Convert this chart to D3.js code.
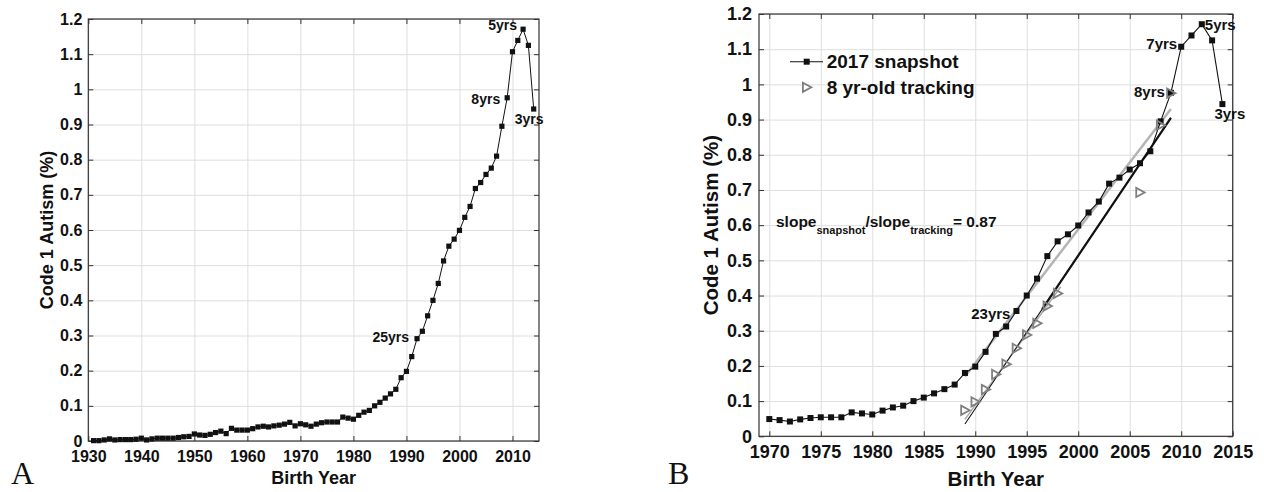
<!DOCTYPE html>
<html><head><meta charset="utf-8">
<script src="https://cdn.jsdelivr.net/npm/d3@7/dist/d3.min.js"></script>
<style>
body{margin:0;background:#fff;}
svg text{font-family:"Liberation Sans",Arial,Helvetica,sans-serif;font-weight:bold;fill:#111;}
</style></head><body>
<svg id="chart" width="1264" height="492"></svg>
<script>
// ---------- DATA ----------
const years = d3.range(1931, 2015); // 1931..2014
const snapshotValues = [
  0.001,0.001,0.003,0.006,0.003,0.004,0.004,0.004,0.005,0.008, // 1931-1940
  0.003,0.006,0.008,0.008,0.008,0.008,0.010,0.012,0.013,0.020, // 1941-1950
  0.017,0.016,0.019,0.024,0.028,0.021,0.036,0.031,0.031,0.031, // 1951-1960
  0.035,0.040,0.042,0.040,0.043,0.045,0.048,0.053,0.043,0.049, // 1961-1970
  0.046,0.042,0.048,0.052,0.054,0.054,0.054,0.068,0.065,0.062, // 1971-1980
  0.073,0.082,0.087,0.100,0.110,0.122,0.134,0.147,0.180,0.198, // 1981-1990
  0.240,0.291,0.312,0.356,0.400,0.448,0.512,0.554,0.574,0.599, // 1991-2000
  0.636,0.667,0.718,0.735,0.758,0.776,0.810,0.895,0.976,1.107, // 2001-2010
  1.139,1.171,1.125,0.944                                      // 2011-2014
];
const trackingYears  = [1989,1990,1991,1992,1993,1994,1995,1996,1997,1998,2006,2008,2009];
const trackingValues = [0.074,0.098,0.133,0.176,0.205,0.250,0.288,0.321,0.370,0.406,0.693,0.884,0.975];

const fitSnapshotYears  = [1989, 2009];
const fitSnapshotValues = [0.170, 0.930];
const fitTrackingYears  = [1989, 2009];
const fitTrackingValues = [0.035, 0.905];
const fitTrackingEarlyYears  = [1989, 1998.3];
const fitTrackingEarlyValues = [0.048, 0.425];

const yTicks = [0,0.1,0.2,0.3,0.4,0.5,0.6,0.7,0.8,0.9,1.0,1.1,1.2];
const yTickLabels = ["0","0.1","0.2","0.3","0.4","0.5","0.6","0.7","0.8","0.9","1","1.1","1.2"];
const xTicksA = [1930,1940,1950,1960,1970,1980,1990,2000,2010];
const xTicksB = [1970,1975,1980,1985,1990,1995,2000,2005,2010,2015];

const annotYearsA = [2012, 2009, 2014, 1992];
const annotTextA  = ["5yrs", "8yrs", "3yrs", "25yrs"];
const annotYearsB = [2012, 2010, 2009, 2014, 1994];
const annotTextB  = ["5yrs", "7yrs", "8yrs", "3yrs", "23yrs"];

const legendLabels = ["2017 snapshot", "8 yr-old tracking"];

// ---------- DRAW ----------
const svg = d3.select("#chart");
const snapshot = years.map((y,i)=>({year:y, v:snapshotValues[i]}));
const tracking = trackingYears.map((y,i)=>({year:y, v:trackingValues[i]}));
const zipPts = (ys, vs) => ys.map((y,i)=>({year:y, v:vs[i]}));

function panel(cfg){
  const g = svg.append("g").attr("transform", `translate(${cfg.left},${cfg.top})`);
  const w = cfg.right - cfg.left, h = cfg.bottom - cfg.top;
  const x = d3.scaleLinear().domain(cfg.xDomain).range([0, w]);
  const y = d3.scaleLinear().domain([0, 1.2]).range([h, 0]);

  // grid
  g.append("g").attr("transform",`translate(0,${h})`)
    .call(d3.axisBottom(x).tickValues(cfg.xTicks).tickSize(-h).tickFormat(""))
    .call(s=>{s.select(".domain").remove(); s.selectAll("line").attr("stroke","#dedede");});
  g.append("g")
    .call(d3.axisLeft(y).tickValues(yTicks).tickSize(-w).tickFormat(""))
    .call(s=>{s.select(".domain").remove(); s.selectAll("line").attr("stroke","#dedede");});

  // axes with inward ticks
  const styleAxis = s => { s.select(".domain").remove(); s.selectAll("line").attr("stroke","#333"); s.selectAll("text").style("font-size", cfg.tickFont+"px").attr("fill","#111"); };
  g.append("g").attr("transform",`translate(0,${h})`)
    .call(d3.axisBottom(x).tickValues(cfg.xTicks).tickSize(-5).tickPadding(cfg.xPad).tickFormat(d3.format("d")))
    .call(styleAxis);
  g.append("g")
    .call(d3.axisLeft(y).tickValues(yTicks).tickSize(-5).tickPadding(cfg.yPad).tickFormat((d,i)=>yTickLabels[i]))
    .call(styleAxis);
  g.append("g")
    .call(d3.axisTop(x).tickValues(cfg.xTicks).tickSize(-5).tickFormat(""))
    .call(styleAxis);
  g.append("g").attr("transform",`translate(${w},0)`)
    .call(d3.axisRight(y).tickValues(yTicks).tickSize(-5).tickFormat(""))
    .call(styleAxis);
  g.append("rect").attr("width",w).attr("height",h).attr("fill","none").attr("stroke","#333").attr("stroke-width",1.2);

  // titles
  g.append("text").attr("x", w/2).attr("y", cfg.xTitleY - cfg.top).attr("text-anchor","middle")
    .attr("dominant-baseline","central").style("font-size", cfg.titleFont+"px").text("Birth Year");
  g.append("text").attr("transform",`translate(${cfg.yTitleX - cfg.left},${h/2}) rotate(-90)`)
    .attr("text-anchor","middle").attr("dominant-baseline","central")
    .style("font-size", cfg.titleFont+"px").text("Code 1 Autism (%)");

  return {g, x, y, w, h};
}

// ---- Panel A ----
const A = panel({left:88.3, right:539, top:19, bottom:441, xDomain:[1930,2015], xTicks:xTicksA,
  tickFont:16, xPad:10, yPad:6, titleFont:18, xTitleY:478, yTitleX:47});
{
  const {g,x,y} = A;
  const data = snapshot;
  g.append("path").datum(data).attr("fill","none").attr("stroke","#111").attr("stroke-width",1)
    .attr("d", d3.line().x(d=>x(d.year)).y(d=>y(d.v)));
  g.selectAll("rect.m").data(data).join("rect").attr("class","m")
    .attr("x",d=>x(d.year)-2.6).attr("y",d=>y(d.v)-2.6).attr("width",5.2).attr("height",5.2).attr("fill","#111");
  const offs = [[-6,-4,"end"],[-7,1,"end"],[-19,10,"start"],[-8,-2,"end"]];
  annotYearsA.forEach((yr,i)=>{
    const d = snapshot.find(p=>p.year===yr);
    const o = offs[i];
    g.append("text").attr("x", x(d.year)+o[0]).attr("y", y(d.v)+o[1])
      .attr("text-anchor", o[2]).attr("dominant-baseline","central")
      .style("font-size","14px").text(annotTextA[i]);
  });
}

// ---- Panel B ----
const B = panel({left:759, right:1232.7, top:14, bottom:436.3, xDomain:[1969,2015], xTicks:xTicksB,
  tickFont:18, xPad:9, yPad:7, titleFont:20.5, xTitleY:478, yTitleX:710.5});
{
  const {g,x,y} = B;
  const data = snapshot.filter(d=>d.year>=1970);
  const line = d3.line().x(d=>x(d.year)).y(d=>y(d.v));
  // fits
  g.append("path").datum(zipPts(fitSnapshotYears, fitSnapshotValues)).attr("fill","none")
    .attr("stroke","#b4b4b4").attr("stroke-width",2.5).attr("d", line);
  g.append("path").datum(zipPts(fitTrackingEarlyYears, fitTrackingEarlyValues)).attr("fill","none")
    .attr("stroke","#a8a8a8").attr("stroke-width",1.5).attr("d", line);
  g.append("path").datum(zipPts(fitTrackingYears, fitTrackingValues)).attr("fill","none")
    .attr("stroke","#111").attr("stroke-width",1.1).attr("d", line);
  const thick = zipPts(fitTrackingYears, fitTrackingValues);
  const tStart = 1996.5, vStart = thick[0].v + (thick[1].v-thick[0].v)*(tStart-thick[0].year)/(thick[1].year-thick[0].year);
  g.append("path").datum([{year:tStart, v:vStart}, thick[1]]).attr("fill","none")
    .attr("stroke","#111").attr("stroke-width",2.2).attr("d", line);

  // snapshot
  g.append("path").datum(data).attr("fill","none").attr("stroke","#111").attr("stroke-width",1.1).attr("d", line);
  g.selectAll("rect.m").data(data).join("rect").attr("class","m")
    .attr("x",d=>x(d.year)-3).attr("y",d=>y(d.v)-3).attr("width",6).attr("height",6).attr("fill","#111");
  // tracking triangles
  const tri = "M-3.8,-4.6L4.6,0L-3.8,4.6Z";
  g.selectAll("path.t").data(tracking).join("path").attr("class","t")
    .attr("transform",d=>`translate(${x(d.year)},${y(d.v)})`).attr("d",tri)
    .attr("fill","none").attr("stroke","#808080").attr("stroke-width",1.8);

  // annotations
  const offs = [[3,0,"start"],[-4,-3,"end"],[-6,-1,"end"],[-8,9,"start"],[-6,2,"end"]];
  annotYearsB.forEach((yr,i)=>{
    const d = snapshot.find(p=>p.year===yr);
    const o = offs[i];
    g.append("text").attr("x", x(d.year)+o[0]).attr("y", y(d.v)+o[1])
      .attr("text-anchor", o[2]).attr("dominant-baseline","central")
      .style("font-size","15px").text(annotTextB[i]);
  });

  // legend
  const L = svg.append("g");
  L.append("line").attr("x1",790).attr("x2",823).attr("y1",61.7).attr("y2",61.7).attr("stroke","#111").attr("stroke-width",1.1);
  L.append("rect").attr("x",806.7-3).attr("y",61.7-3).attr("width",6).attr("height",6).attr("fill","#111");
  L.append("path").attr("transform","translate(806.7,87.3)").attr("d",tri).attr("fill","none").attr("stroke","#808080").attr("stroke-width",1.8);
  L.append("text").attr("x",826.7).attr("y",61.7).attr("dominant-baseline","central").style("font-size","19px").text(legendLabels[0]);
  L.append("text").attr("x",826.7).attr("y",87.3).attr("dominant-baseline","central").style("font-size","19px").text(legendLabels[1]);

  // slope ratio text
  const t = svg.append("text").attr("x",776).attr("y",227).style("font-size","15.5px");
  t.append("tspan").text("slope");
  t.append("tspan").attr("dy",7).style("font-size","11px").text("snapshot");
  t.append("tspan").attr("dy",-7).text("/slope");
  t.append("tspan").attr("dy",7).style("font-size","11px").text("tracking");
  t.append("tspan").attr("dy",-7).text("= 0.87");
}

// panel letters
svg.append("text").attr("x",11).attr("y",484).style("font-family","'Liberation Serif','Times New Roman',serif")
  .style("font-weight","normal").style("font-size","32px").text("A");
svg.append("text").attr("x",668).attr("y",484).style("font-family","'Liberation Serif','Times New Roman',serif")
  .style("font-weight","normal").style("font-size","32px").text("B");
</script>
</body></html>
